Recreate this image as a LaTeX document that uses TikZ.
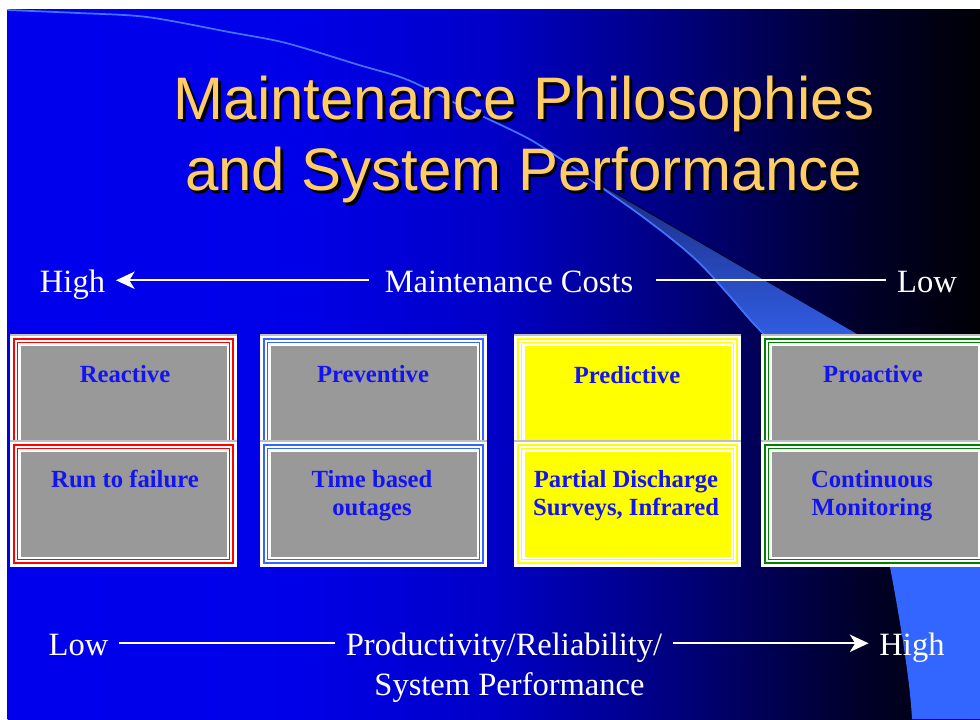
\documentclass[tikz,border=0pt]{standalone}
\usepackage{fontspec}
\setmainfont{Liberation Serif}
\newfontfamily\titlefont{Liberation Sans}
\usepackage{tikz}
\usetikzlibrary{arrows.meta}
\definecolor{cgold}{RGB}{255,204,102}
\definecolor{cgrey}{RGB}{153,153,153}
\definecolor{cred}{RGB}{255,0,0}
\definecolor{cblue}{RGB}{51,102,255}
\definecolor{cyellow}{RGB}{255,255,0}
\definecolor{cgreen}{RGB}{0,128,0}
\definecolor{cink}{RGB}{20,20,240}
\definecolor{cstreak}{RGB}{65,115,255}
\definecolor{cwedgetop}{RGB}{25,40,125}
\definecolor{cwedgebot}{RGB}{50,95,230}
\pgfdeclarehorizontalshading{slidebg}{100bp}{rgb(0bp)=(0,0,0.93); rgb(25bp)=(0,0,0.93); rgb(40bp)=(0,0,0.91); rgb(50bp)=(0,0,0.78); rgb(57.5bp)=(0,0,0.55); rgb(63bp)=(0,0,0.36); rgb(69bp)=(0,0,0.16); rgb(75bp)=(0,0,0.02); rgb(100bp)=(0,0,0.02)}

\tikzset{
  titletext/.style={font=\titlefont\fontsize{45}{54}\selectfont, text=cgold, anchor=base, inner sep=0pt},
  titleshade/.style={titletext, text=black},
  axislabel/.style={font=\fontsize{24.4}{28}\selectfont, text=white, anchor=base, inner sep=8pt, text height=20pt, text depth=2.4pt},
  axisline/.style={white, line width=1.5pt},
  axisarrow/.style={axisline, -{Stealth[length=14pt, width=13pt, inset=4pt]}},
  boxlabel/.style={font=\bfseries\fontsize{18.5}{21}\selectfont, text=cink, anchor=base, align=center, inner sep=0pt},
  panelframe/.style={draw=#1, double=white, line width=1.3pt, double distance=1.5pt},
  paneledge/.style={black!25, line width=1.2pt},
  streak/.style={cstreak, line width=1.3pt},
}

\begin{document}
\begin{tikzpicture}[x=0.75pt, y=-0.75pt]
  \useasboundingbox (0, 0) rectangle (980, 719);
  \fill [white] (0, 0) rectangle (980, 719);
  \begin{scope}
  \clip (7.5, 9.5) rectangle (980, 719);
  \shade [shading=slidebg] (7.5, 9.5) rectangle (980, 719);

  \draw [streak] plot [smooth, tension=0.5] coordinates {(7, 10) (78, 13) (147, 17) (229, 32) (286, 43) (359, 65) (408, 80) (469, 110) (531, 140) (584, 175)};
  \fill [cblue] (772, 342) .. controls (830, 430) and (885, 530) .. (890, 567)
    .. controls (900, 620) and (910, 680) .. (912, 719)
    -- (980, 719) -- (980, 410) -- (872, 342) -- cycle;
  \shade [top color=cwedgetop, bottom color=cwedgebot]
    plot [smooth, tension=0.6] coordinates {(582, 174) (643, 217) (693, 257) (727, 293) (753, 323) (772, 342)}
    -- (872, 342) -- (586, 176) -- cycle;
  \draw [streak] plot [smooth, tension=0.6] coordinates {(582, 174) (643, 217) (693, 257) (727, 293) (753, 323) (772, 342)};
  \draw [black!80!blue, line width=0.8pt] (586, 176) -- (872, 342);

  \node [titleshade] (titleAs) at (526.5, 122) {Maintenance Philosophies};
  \node [titletext] (titleA) at (524, 119) {Maintenance Philosophies};
  \node [titleshade] (titleBs) at (526, 193) {and System Performance};
  \node [titletext] (titleB) at (523.5, 190) {and System Performance};

  \node [axislabel] (costhigh) at (72.5, 292) {High};
  \node [axislabel] (costs) at (509, 292) {Maintenance Costs};
  \node [axislabel] (costlow) at (927, 292) {Low};
  \draw [axisarrow, shorten <=4pt] (costs.west) -- (costhigh.east);
  \draw [axisline, shorten <=9pt] (costs.east) -- (costlow.west);

  \foreach \px/\pc/\pf in {10/cred/cgrey, 260/cblue/cgrey, 514/cyellow/cyellow, 761/cgreen/cgrey} {
    \foreach \py/\ph in {335/120, 441/126} {
      \fill [white] (\px, \py) rectangle ++(227, \ph);
      \draw [paneledge] (\px, \py) -- ++(227, 0);
      \draw [panelframe=\pc] (\px+5.6, \py+5.6) rectangle (\px+221.4, \py+\ph-5.6);
      \fill [\pf] (\px+10.5, \py+10.5) rectangle (\px+216.5, \py+\ph-10.5);
    }
  }

  \node [boxlabel] (reactive) at (125, 382) {Reactive};
  \node [boxlabel] (runfail) at (125, 487) {Run to failure};
  \node [boxlabel] (preventive) at (373, 382) {Preventive};
  \node [boxlabel] (timebased) at (372, 515) {Time based\\outages};
  \node [boxlabel] (predictive) at (627, 383) {Predictive};
  \node [boxlabel] (pdsurvey) at (626, 515) {Partial Discharge\\Surveys, Infrared};
  \node [boxlabel] (proactive) at (873, 382) {Proactive};
  \node [boxlabel] (contmon) at (872, 515) {Continuous\\Monitoring};

  \node [axislabel] (perflow) at (78.5, 655) {Low};
  \node [axislabel] (perf) at (504, 655) {Productivity/Reliability/};
  \node [axislabel] (perfsys) at (509.5, 695) {System Performance};
  \node [axislabel] (perfhigh) at (912, 655) {High};
  \draw [axisline] (perflow) -- (perf);
  \draw [axisarrow] (perf) -- (perfhigh);
  \end{scope}
\end{tikzpicture}
\end{document}
